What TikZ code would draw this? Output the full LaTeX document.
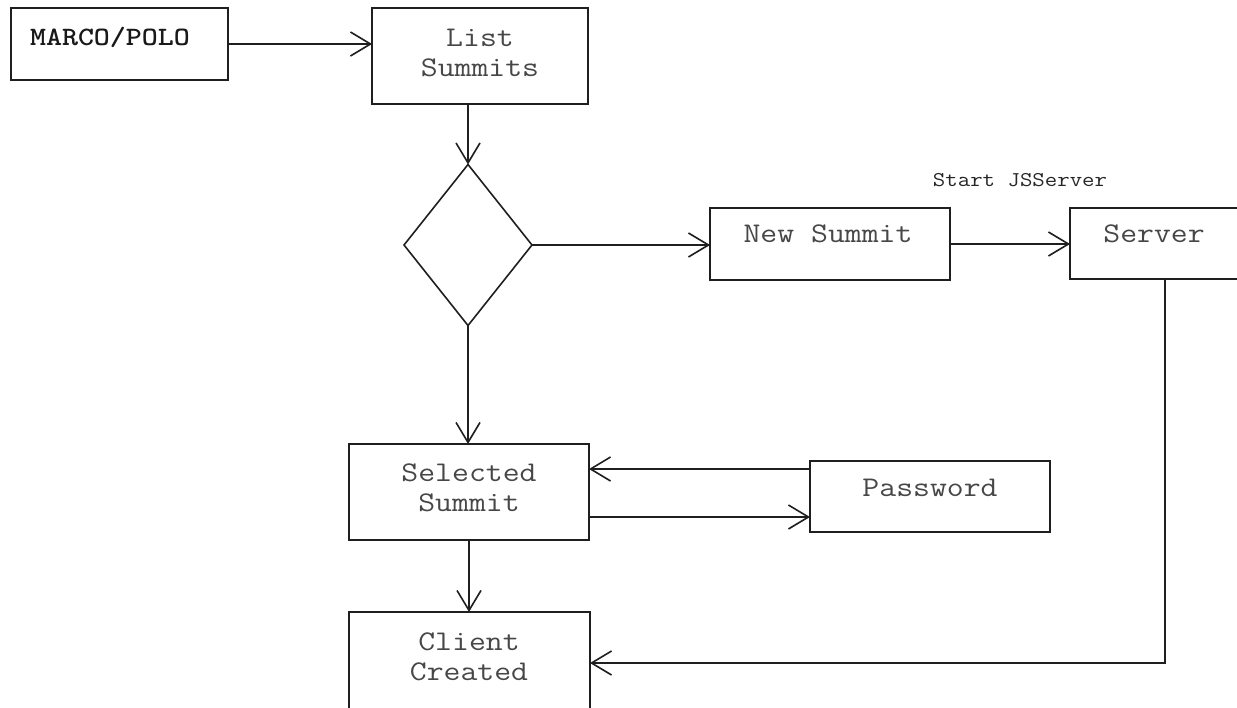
\documentclass[tikz,border=0pt]{standalone}
\usepackage{fontspec}
\setmonofont[FakeStretch=1.15]{Latin Modern Mono}
\newfontfamily\headfont[FakeStretch=1.15]{Latin Modern Mono Light}
\usetikzlibrary{arrows.meta,shapes.geometric}
\tikzset{
  box/.style={draw=black!88, line width=1.6pt, inner sep=0pt, outer sep=0pt},
  lbl/.style={text=black!72, font=\ttfamily\fontsize{28.5}{30}\selectfont, align=center, inner sep=0pt},
  arr/.style={draw=black!88, line width=1.6pt, -{Straight Barb[length=20pt,width=24pt,line width=1.6pt]}},
}
\begin{document}
\begin{tikzpicture}[x=1pt,y=-1pt]
\useasboundingbox (0,0) rectangle (1237,707);
\clip (0,0) rectangle (1237,707);

% boxes
\node[box, minimum width=217pt, minimum height=72pt] (marco) at (119.5,44) {};
\node[box, minimum width=216pt, minimum height=96pt] (list) at (480,56) {};
\node[box, diamond, minimum width=128pt, minimum height=161pt] (dec) at (468,245) {};
\node[box, minimum width=240pt, minimum height=72pt] (news) at (830,244) {};
\node[box, minimum width=180pt, minimum height=71pt] (server) at (1160,243.5) {};
\node[box, minimum width=240pt, minimum height=96pt] (sel) at (469,492) {};
\node[box, minimum width=240pt, minimum height=71pt] (pw) at (930,496.5) {};
\node[box, minimum width=241pt, minimum height=128pt] (cli) at (469.5,676) {};

% labels
\node[lbl, text=black!90, font=\headfont\bfseries\fontsize{26.5}{28}\selectfont] (marco-t) at (110,37) {MARCO/POLO};
\node[lbl] (list-t) at (480,53) {List\\Summits};
\node[lbl] (news-t) at (828,234) {New Summit};
\node[lbl] (server-t) at (1154,234) {Server};
\node[lbl, text=black!85, font=\ttfamily\fontsize{21}{23}\selectfont] (start-t) at (1020,180) {Start JSServer};
\node[lbl] (sel-t) at (469,488) {Selected\\Summit};
\node[lbl] (pw-t) at (930,488) {Password};
\node[lbl] (cli-t) at (469,657) {Client\\Created};

% connectors
\draw[arr] (marco.east) -- (marco.east -| list.west);
\draw[arr] (list.south -| dec.north) -- (dec.north);
\draw[arr] (dec.east) -- (dec.east -| news.west);
\draw[arr] (news.east) -- (news.east -| server.west);
\draw[arr] (dec.south) -- (dec.south |- sel.north);
\draw[arr] (pw.west |- 0,469) -- (sel.east |- 0,469);
\draw[arr] (sel.east |- 0,517) -- (pw.west |- 0,517);
\draw[arr] (sel.south) -- (sel.south |- cli.north);
\draw[arr] (server.south -| 1165,0) |- (cli.east |- 0,663);
\end{tikzpicture}
\end{document}
